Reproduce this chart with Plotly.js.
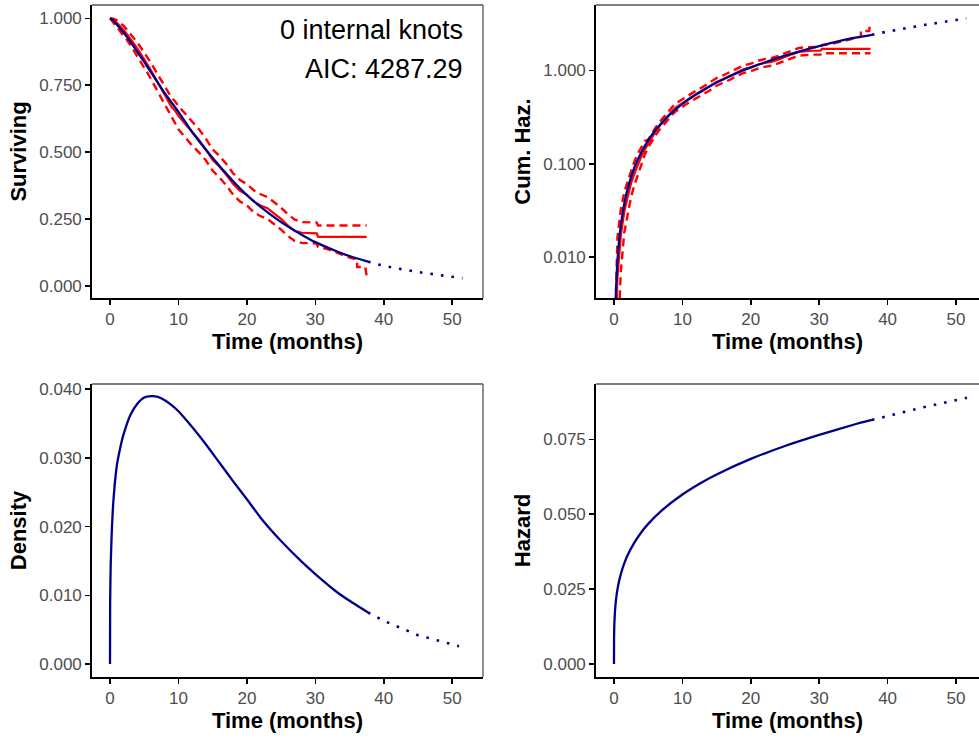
<!DOCTYPE html>
<html>
<head>
<meta charset="utf-8">
<script src="https://cdn.plot.ly/plotly-3.0.1.min.js"></script>
<style>html,body{margin:0;padding:0;background:#fff;}#chart{width:979px;height:738px;}</style>
</head>
<body>
<div id="chart"></div>
<script>
// ---------- Fitted model (0 internal knots) : solid within data range ----------
const time_fit = [0, 0.25, 0.5, 1, 2, 3, 4, 5, 6, 8, 10, 12, 15, 18, 20, 22, 25, 28, 30, 33, 35, 37.7];
const surv_fit = [1.000, 0.997, 0.992, 0.977, 0.947, 0.912, 0.875, 0.837, 0.798, 0.720, 0.650, 0.575, 0.478, 0.391, 0.339, 0.295, 0.238, 0.191, 0.163, 0.130, 0.111, 0.090];
// extrapolation (dotted)
const time_ext = [37.7, 40, 45, 50, 51.5];
const surv_ext = [0.090, 0.074, 0.051, 0.034, 0.028];

// cumulative hazard (fitted)
const time_chaz = [0.15, 0.2, 0.3, 0.5, 0.75, 1, 1.5, 2, 3, 4, 5, 6, 8, 10, 12, 15, 18, 20, 25, 30, 35, 37.7];
const chaz_fit = [0.00187, 0.00271, 0.00459, 0.00892, 0.0151, 0.0220, 0.0373, 0.0541, 0.0917, 0.133, 0.178, 0.226, 0.328, 0.439, 0.556, 0.743, 0.942, 1.08, 1.444, 1.83, 2.236, 2.42];
const chaz_ext = [2.42, 2.62, 3.05, 3.50, 3.63];

// density (fitted)
const time_dens = [0, 0.02, 0.1, 0.25, 0.5, 1, 1.5, 2, 3, 4, 5, 6, 7, 8, 9, 10, 12, 14, 16, 18, 20, 22, 25, 28, 30, 33, 35, 37.7];
const dens_fit = [0, 0.0088, 0.0143, 0.0190, 0.0238, 0.0289, 0.0315, 0.0335, 0.0363, 0.0379, 0.0388, 0.0390, 0.0389, 0.0384, 0.0377, 0.0368, 0.0345, 0.0320, 0.0293, 0.0266, 0.0240, 0.0213, 0.0179, 0.0149, 0.0131, 0.0106, 0.0092, 0.0075];
const time_dens_ext = [37.7, 40, 45, 51];
const dens_ext = [0.0075, 0.0063, 0.0042, 0.0026];

// hazard (fitted)
const time_haz = [0, 0.01, 0.05, 0.15, 0.3, 0.6, 1, 1.5, 2, 3, 4, 5, 7, 10, 12.5, 15, 20, 25, 30, 35, 37.7];
const haz_fit = [0, 0.0085, 0.0132, 0.0178, 0.0216, 0.0261, 0.0300, 0.0336, 0.0364, 0.0406, 0.0440, 0.0468, 0.0513, 0.0566, 0.0602, 0.0633, 0.0685, 0.0728, 0.0765, 0.0799, 0.0815];
const time_haz_ext = [37.7, 40, 45, 51.6];
const haz_ext = [0.0815, 0.0828, 0.0856, 0.0889];

// ---------- Kaplan-Meier estimate with confidence limits ----------
const km_time = [0, 0.5, 1, 1.5, 2, 2.5, 3, 3.5, 4, 4.5, 5, 5.5, 6, 6.5, 7, 7.5, 8, 8.5, 9, 9.5, 10, 11, 12, 13, 14, 15, 16, 17, 18, 19, 20, 21, 22, 23, 24, 25, 26, 27, 28, 29, 30.2, 30.4, 37.5];
const km_surv = [1.0, 0.994, 0.983, 0.97, 0.957, 0.94, 0.924, 0.905, 0.887, 0.868, 0.848, 0.826, 0.805, 0.782, 0.76, 0.738, 0.714, 0.692, 0.668, 0.655, 0.635, 0.605, 0.575, 0.545, 0.51, 0.47, 0.445, 0.415, 0.38, 0.355, 0.34, 0.315, 0.30, 0.29, 0.27, 0.25, 0.225, 0.205, 0.198, 0.196, 0.196, 0.183, 0.183];
const km_upper = [1.0, 0.999, 0.993, 0.982, 0.972, 0.957, 0.942, 0.925, 0.909, 0.891, 0.873, 0.852, 0.833, 0.811, 0.79, 0.769, 0.747, 0.726, 0.703, 0.69, 0.672, 0.643, 0.613, 0.585, 0.55, 0.51, 0.485, 0.455, 0.42, 0.395, 0.38, 0.357, 0.342, 0.332, 0.312, 0.292, 0.267, 0.247, 0.238, 0.236, 0.236, 0.225, 0.225];
const kmlo_time = [0, 0.5, 1, 1.5, 2, 2.5, 3, 3.5, 4, 4.5, 5, 5.5, 6, 6.5, 7, 7.5, 8, 8.5, 9, 9.5, 10, 11, 12, 13, 14, 15, 16, 17, 18, 19, 20, 21, 22, 23, 24, 25, 26, 27, 28, 29, 30.2, 30.4, 32, 33.5, 35, 36.1, 36.1, 37.3, 37.5];
const km_lower = [1.0, 0.984, 0.968, 0.952, 0.937, 0.918, 0.899, 0.879, 0.859, 0.839, 0.818, 0.795, 0.772, 0.748, 0.725, 0.702, 0.677, 0.655, 0.63, 0.607, 0.585, 0.555, 0.524, 0.499, 0.469, 0.43, 0.405, 0.375, 0.34, 0.315, 0.30, 0.275, 0.26, 0.25, 0.23, 0.21, 0.186, 0.167, 0.16, 0.158, 0.158, 0.145, 0.135, 0.12, 0.105, 0.098, 0.07, 0.07, 0.036];

// KM-based cumulative hazard with limits
const kmh_time = [0.3, 0.5, 1, 1.5, 2, 2.5, 3, 3.5, 4, 4.5, 5, 5.5, 6, 6.5, 7, 7.5, 8, 8.5, 9, 9.5, 10, 11, 12, 13, 14, 15, 16, 17, 18, 19, 20, 21, 22, 23, 24, 25, 26, 27, 28, 29, 30.2, 30.4, 37.5];
const kmh_est = [0.002, 0.006, 0.0171, 0.0305, 0.044, 0.0619, 0.079, 0.0998, 0.120, 0.1416, 0.1649, 0.191, 0.2169, 0.246, 0.274, 0.304, 0.3369, 0.368, 0.4005, 0.423, 0.454, 0.5025, 0.553, 0.607, 0.673, 0.755, 0.810, 0.879, 0.968, 1.036, 1.079, 1.155, 1.204, 1.238, 1.309, 1.386, 1.492, 1.585, 1.619, 1.630, 1.630, 1.705, 1.705];
const kmh_up_time = [0.25, 0.5, 1, 1.5, 2, 2.5, 3, 3.5, 4, 4.5, 5, 5.5, 6, 6.5, 7, 7.5, 8, 8.5, 9, 9.5, 10, 11, 12, 13, 14, 15, 16, 17, 18, 19, 20, 21, 22, 23, 24, 25, 26, 27, 28, 29, 30.2, 30.4, 32, 33.5, 35, 36.1, 36.1, 37.3, 37.5];
const kmh_upper = [0.003, 0.0161, 0.0325, 0.0492, 0.0651, 0.0856, 0.1065, 0.129, 0.152, 0.1755, 0.181, 0.210, 0.239, 0.271, 0.301, 0.334, 0.371, 0.405, 0.441, 0.465, 0.499, 0.553, 0.608, 0.668, 0.740, 0.831, 0.891, 0.967, 1.065, 1.140, 1.187, 1.271, 1.324, 1.362, 1.440, 1.525, 1.641, 1.744, 1.781, 1.793, 1.793, 1.870, 1.950, 2.070, 2.200, 2.30, 2.66, 2.66, 3.32];
const kmh_lo_time = [0.5, 1, 1.5, 2, 2.5, 3, 3.5, 4, 4.5, 5, 5.5, 6, 6.5, 7, 7.5, 8, 8.5, 9, 9.5, 10, 11, 12, 13, 14, 15, 16, 17, 18, 19, 20, 21, 22, 23, 24, 25, 26, 27, 28, 29, 30.2, 30.4, 37.5];
const kmh_lower = [0.001, 0.0070, 0.0182, 0.0284, 0.044, 0.0598, 0.078, 0.1, 0.125, 0.150, 0.174, 0.197, 0.224, 0.249, 0.277, 0.307, 0.335, 0.364, 0.385, 0.413, 0.457, 0.503, 0.552, 0.612, 0.687, 0.737, 0.800, 0.881, 0.943, 0.982, 1.051, 1.096, 1.127, 1.191, 1.261, 1.358, 1.442, 1.473, 1.483, 1.483, 1.53, 1.53];

const xTicks = [0, 10, 20, 30, 40, 50];
const survTicks = [0, 0.25, 0.5, 0.75, 1];
const chazTicks = [0.01, 0.1, 1];
const chazTickText = ['0.010', '0.100', '1.000'];
const densTicks = [0, 0.01, 0.02, 0.03, 0.04];
const hazTicks = [0, 0.025, 0.05, 0.075];
const annoText = ['0 internal knots', 'AIC: 4287.29'];

// ---------- styling ----------
const BLUE = '#00008B', RED = '#FF0000';
const FONT = 'Liberation Sans, Arial, sans-serif';
const fitLine = {color: BLUE, width: 2.3, shape: 'spline', smoothing: 0.5};
const extLine = {color: BLUE, width: 2.6, dash: '2.6px,8px'};
const kmLine = {color: RED, width: 2.2};
const ciLine = {color: RED, width: 2.4, dash: '8px,5px'};

function tr(x, y, line, ax) {
  return {x: x, y: y, type: 'scatter', mode: 'lines', line: line,
    xaxis: 'x' + ax, yaxis: 'y' + ax, showlegend: false, hoverinfo: 'skip'};
}

const data = [
  // Survival panel
  tr(km_time, km_upper, ciLine, ''),
  tr(kmlo_time, km_lower, ciLine, ''),
  tr(km_time, km_surv, kmLine, ''),
  tr(time_fit, surv_fit, fitLine, ''),
  tr(time_ext, surv_ext, extLine, ''),
  // Cumulative hazard panel
  tr(kmh_lo_time, kmh_lower, ciLine, '2'),
  tr(kmh_up_time, kmh_upper, ciLine, '2'),
  tr(kmh_time, kmh_est, kmLine, '2'),
  tr(time_chaz, chaz_fit, fitLine, '2'),
  tr(time_ext, chaz_ext, extLine, '2'),
  // Density panel
  tr(time_dens, dens_fit, fitLine, '3'),
  tr(time_dens_ext, dens_ext, extLine, '3'),
  // Hazard panel
  tr(time_haz, haz_fit, fitLine, '4'),
  tr(time_haz_ext, haz_ext, extLine, '4')
];

const W = 979, H = 738;
const leftDom = [92 / W, 483 / W];
const rightDom = [596 / W, 1];
const topDom = [1 - 298 / H, 1 - 5 / H];
const botDom = [1 - 677 / H, 1 - 384 / H];

function xax(dom, anchor, range) {
  return {domain: dom, anchor: anchor, range: range, autorange: false,
    tickvals: xTicks, ticks: 'outside', ticklen: 5, tickwidth: 1.6, tickcolor: '#000',
    showline: true, linecolor: '#000', linewidth: 1.8, showgrid: false, zeroline: false,
    tickfont: {family: FONT, size: 17, color: '#4D4D4D'},
    title: {text: '<b>Time (months)</b>', font: {family: FONT, size: 22, color: '#000'}, standoff: 4}};
}
function yax(dom, anchor, range, ticks, extra) {
  return Object.assign({domain: dom, anchor: anchor, range: range, autorange: false,
    tickvals: ticks, tickformat: '.3f', ticks: 'outside', ticklen: 5, tickwidth: 1.6, tickcolor: '#000',
    showline: true, linecolor: '#000', linewidth: 1.8, showgrid: false, zeroline: false,
    tickfont: {family: FONT, size: 17, color: '#4D4D4D'}}, extra);
}
function ytitle(t) { return {text: '<b>' + t + '</b>', font: {family: FONT, size: 22, color: '#000'}, standoff: 6}; }

const layout = {
  width: W, height: H,
  margin: {l: 0, r: 0, t: 0, b: 0},
  paper_bgcolor: '#fff', plot_bgcolor: '#fff',
  showlegend: false,
  xaxis: xax(leftDom, 'y', [-2.63, 54.5]),
  yaxis: yax(topDom, 'x', [-0.046, 1.05], survTicks, {title: ytitle('Surviving')}),
  xaxis2: xax(rightDom, 'y2', [-2.63, 53.36]),
  yaxis2: yax(topDom, 'x2', [-2.44, 0.703], chazTicks, {type: 'log', ticktext: chazTickText, tickformat: null, title: ytitle('Cum. Haz.')}),
  xaxis3: xax(leftDom, 'y3', [-2.63, 54.5]),
  yaxis3: yax(botDom, 'x3', [-0.00189, 0.04077], densTicks, {title: ytitle('Density')}),
  xaxis4: xax(rightDom, 'y4', [-2.63, 53.36]),
  yaxis4: yax(botDom, 'x4', [-0.00434, 0.0935], hazTicks, {title: ytitle('Hazard')}),
  shapes: [
    {type: 'line', xref: 'x domain', yref: 'y domain', x0: 0, x1: 1, y0: 1, y1: 1, line: {color: '#555', width: 1.3}},
    {type: 'line', xref: 'x domain', yref: 'y domain', x0: 1, x1: 1, y0: 0, y1: 1, line: {color: '#555', width: 1.3}},
    {type: 'line', xref: 'x2 domain', yref: 'y2 domain', x0: 0, x1: 1, y0: 1, y1: 1, line: {color: '#555', width: 1.3}},
    {type: 'line', xref: 'x3 domain', yref: 'y3 domain', x0: 0, x1: 1, y0: 1, y1: 1, line: {color: '#555', width: 1.3}},
    {type: 'line', xref: 'x3 domain', yref: 'y3 domain', x0: 1, x1: 1, y0: 0, y1: 1, line: {color: '#555', width: 1.3}},
    {type: 'line', xref: 'x4 domain', yref: 'y4 domain', x0: 0, x1: 1, y0: 1, y1: 1, line: {color: '#555', width: 1.3}}
  ],
  annotations: [
    {text: annoText[0], xref: 'paper', yref: 'paper', x: 465 / W, y: 1 - 29.5 / H, xanchor: 'right', yanchor: 'middle', showarrow: false, font: {family: FONT, size: 27, color: '#000'}},
    {text: annoText[1], xref: 'paper', yref: 'paper', x: 465 / W, y: 1 - 69 / H, xanchor: 'right', yanchor: 'middle', showarrow: false, font: {family: FONT, size: 27, color: '#000'}}
  ]
};

Plotly.newPlot('chart', data, layout, {displayModeBar: false, staticPlot: true});
</script>
</body>
</html>
